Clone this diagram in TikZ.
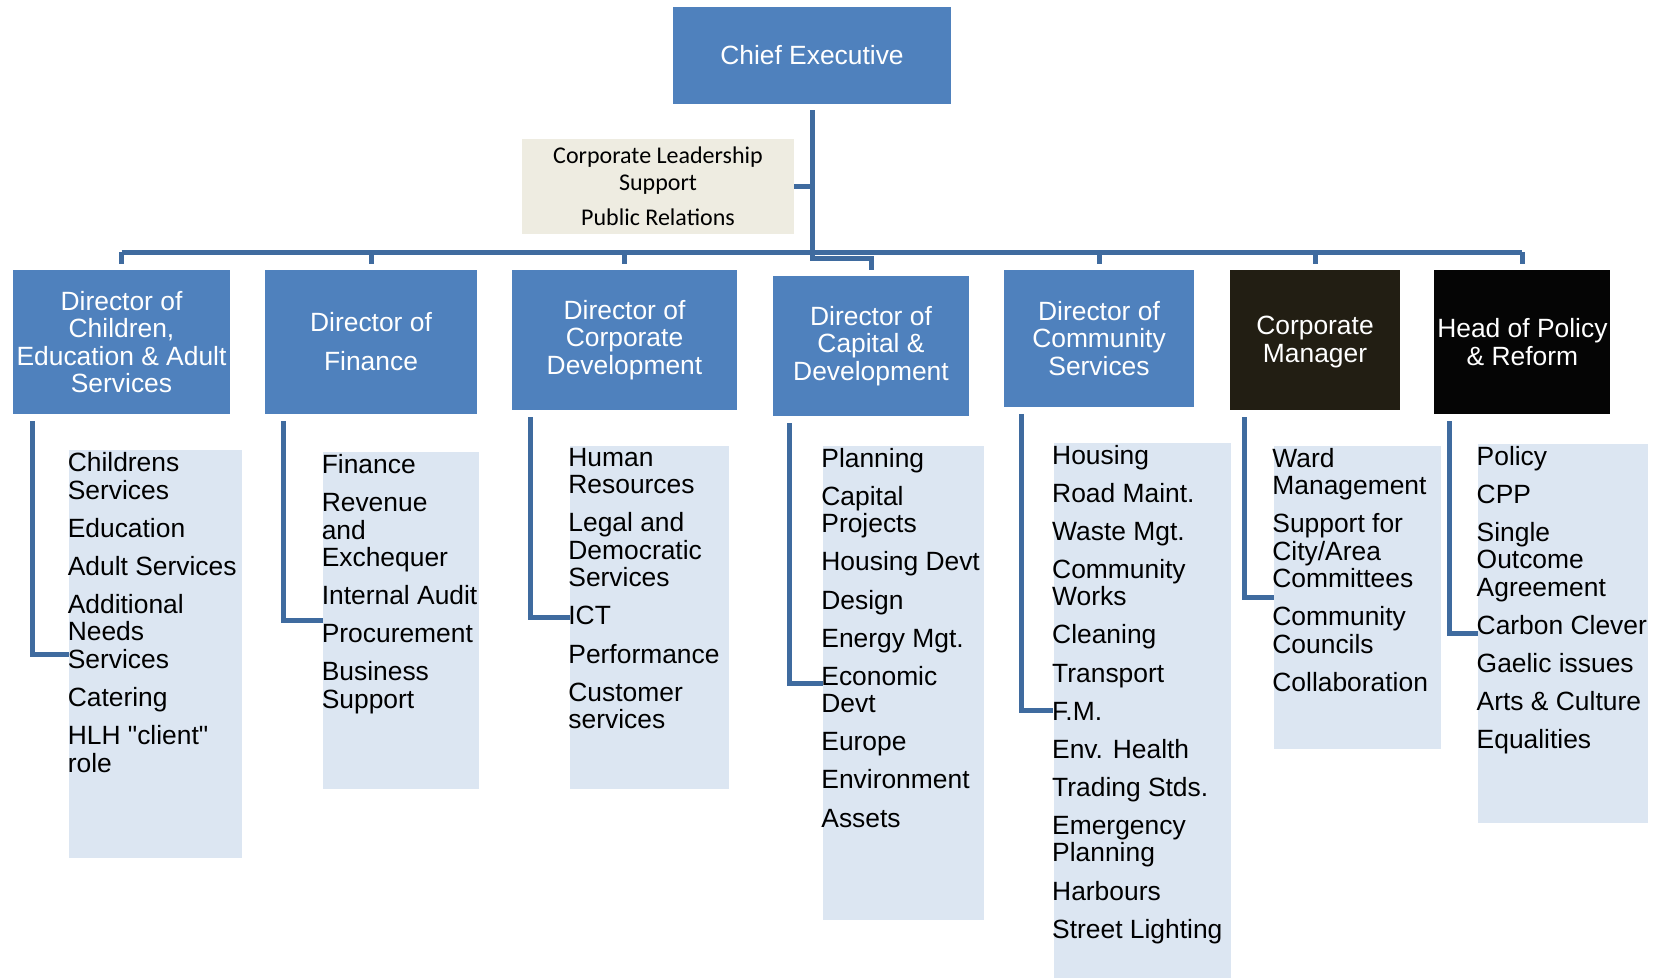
\documentclass[tikz,border=0pt]{standalone}
\usepackage{fontspec}
\setmainfont{Liberation Sans}
\newfontfamily\calibrifont{Carlito}

\definecolor{dirblue}{HTML}{4F81BD}
\definecolor{connblue}{HTML}{3F6B9F}
\definecolor{listblue}{HTML}{DCE6F2}
\definecolor{supportbg}{HTML}{EEECE1}
\definecolor{mgrdark}{HTML}{221E13}
\definecolor{policyblack}{HTML}{050505}

\newcommand{\listgap}{\\[5.3pt]}

\begin{document}
\begin{tikzpicture}[x=0.5pt, y=-0.5pt,
    dirbox/.style={fill=dirblue, text=white, align=center, inner sep=0pt,
        font=\fontsize{13.2}{13.75}\selectfont},
    listbox/.style={fill=listblue, anchor=north west, inner sep=0pt},
    listtext/.style={anchor=north west, align=left, inner xsep=0pt, inner ysep=1pt,
        xshift=-0.8pt, font=\fontsize{13.2}{13.75}\selectfont},
    conn/.style={draw=connblue, line width=2.5pt}]
    \useasboundingbox (0,0) rectangle (1660,979);

    % Top of the tree
    \node[dirbox, minimum width=139pt, minimum height=48.5pt] (ce) at (812,55.5) {Chief Executive};
    \node[fill=supportbg, align=center, inner sep=0pt, minimum width=136pt, minimum height=47.5pt,
        font=\calibrifont\fontsize{12}{13.7}\selectfont] (cls) at (658,186.5)
        {Corporate Leadership\\Support\\[3.8pt]Public Relations};

    % Directors
    \node[dirbox, minimum width=108.5pt, minimum height=72pt] (ch) at (121.5,342)
        {Director of\\Children,\\Education \& Adult\\Services};
    \node[dirbox, minimum width=106pt, minimum height=72pt] (fin) at (371,342)
        {Director of\\[5.75pt]Finance};
    \node[dirbox, minimum width=112.5pt, minimum height=70pt] (cd) at (624.5,340)
        {Director of\\Corporate\\Development};
    \node[dirbox, minimum width=98pt, minimum height=70pt] (cap) at (871,346)
        {Director of\\Capital \&\\Development};
    \node[dirbox, minimum width=95.3pt, minimum height=68.25pt] (com) at (1099,338.25)
        {Director of\\Community\\Services};
    \node[dirbox, fill=mgrdark, minimum width=85pt, minimum height=70pt, text depth=0.8pt] (cm) at (1315,340)
        {Corporate\\Manager};
    \node[dirbox, fill=policyblack, minimum width=88pt, minimum height=72pt] (hp) at (1522.4,342)
        {Head of Policy\\\& Reform};

    % Service lists
    \node[listbox, minimum width=86.3pt, minimum height=203.75pt] (chl) at (69,450) {};
    \node[listtext] (cht) at (chl.north west)
        {Childrens\\Services\listgap Education\listgap Adult Services\listgap
         Additional\\Needs\\Services\listgap Catering\listgap HLH \textquotedbl client\textquotedbl\\role};

    \node[listbox, minimum width=77.8pt, minimum height=168.35pt] (finl) at (323,452) {};
    \node[listtext] (fint) at (finl.north west)
        {Finance\listgap Revenue\\and\\Exchequer\listgap Internal Audit\listgap
         Procurement\listgap Business\\Support};

    \node[listbox, minimum width=79.4pt, minimum height=171.5pt] (cdl) at (569.6,445.7) {};
    \node[listtext] (cdt) at (cdl.north west)
        {Human\\Resources\listgap Legal and\\Democratic\\Services\listgap ICT\listgap
         Performance\listgap Customer\\services};

    \node[listbox, minimum width=80.45pt, minimum height=237.15pt] (capl) at (822.6,445.7) {};
    \node[listtext] (capt) at (capl.north west)
        {Planning\listgap Capital\\Projects\listgap Housing Devt\listgap Design\listgap
         Energy Mgt.\listgap Economic\\Devt\listgap Europe\listgap Environment\listgap Assets};

    \node[listbox, minimum width=88.4pt, minimum height=267.35pt] (coml) at (1053.4,442.5) {};
    \node[listtext] (comt) at (coml.north west)
        {Housing\listgap Road Maint.\listgap Waste Mgt.\listgap Community\\Works\listgap
         Cleaning\listgap Transport\listgap F.M.\listgap Env. Health\listgap
         Trading Stds.\listgap Emergency\\Planning\listgap Harbours\listgap Street Lighting};

    \node[listbox, minimum width=83.65pt, minimum height=151.4pt] (cml) at (1273.6,445.7) {};
    \node[listtext] (cmt) at (cml.north west)
        {Ward\\Management\listgap Support for\\City/Area\\Committees\listgap
         Community\\Councils\listgap Collaboration};

    \node[listbox, minimum width=84.7pt, minimum height=189.5pt] (hpl) at (1477.9,443.6) {};
    \node[listtext] (hpt) at (hpl.north west)
        {Policy\listgap CPP\listgap Single\\Outcome\\Agreement\listgap Carbon Clever\listgap
         Gaelic issues\listgap Arts \& Culture\listgap Equalities};

    % Connectors from the top
    \coordinate (bar) at (0,252);
    \coordinate (jog) at (0,258);
    \draw[conn] ([yshift=-3pt]ce.south) -- (ce.south |- jog) -| ([yshift=3pt]cap.north);
    \draw[conn] (cls.east) -- (cls.east -| ce.south);
    \draw[conn] (ch.north |- bar) -- (hp.north |- bar);
    \foreach \d in {ch,fin,cd,com,cm,hp}
        \draw[conn] (\d.north |- bar) -- ([yshift=3pt]\d.north);

    % Brackets down to the lists
    \foreach \d/\o in {ch/10,fin/9.5,cd/9.5,cap/8.5,com/9,cm/7.5,hp/7.5}
        \draw[conn] ([xshift=\o pt,yshift=-3.5pt]\d.south west) |- (\d l.west);

\end{tikzpicture}
\end{document}
